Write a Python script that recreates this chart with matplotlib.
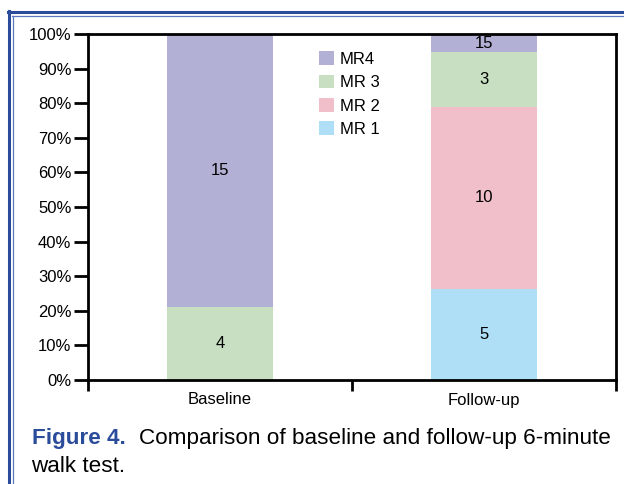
import matplotlib
matplotlib.use("Agg")
import matplotlib.pyplot as plt
from matplotlib.lines import Line2D
import numpy as np

plt.rcParams['font.family'] = ['Liberation Sans', 'DejaVu Sans']

categories = ["Baseline", "Follow-up"]
series = ["MR 1", "MR 2", "MR 3", "MR4"]
counts = {
    "MR 1": [0, 5],
    "MR 2": [0, 10],
    "MR 3": [4, 3],
    "MR4": [15, 1],
}
labels = {
    "MR 1": ["", "5"],
    "MR 2": ["", "10"],
    "MR 3": ["4", "3"],
    "MR4": ["15", "15"],
}
colors = {
    "MR 1": "#aedff7",
    "MR 2": "#f1bfca",
    "MR 3": "#c8e0c1",
    "MR4": "#b2b1d5",
}
yticks = [0, 10, 20, 30, 40, 50, 60, 70, 80, 90, 100]

W, H = 624, 484
fig = plt.figure(figsize=(W / 100, H / 100), dpi=100)
ax = fig.add_axes([88 / W, 1 - 380 / H, (616 - 88) / W, (380 - 34) / H])

totals = np.sum([counts[s] for s in series], axis=0)
x = np.arange(len(categories)) + 0.5
bottom = np.zeros(len(categories))
handles = {}
for s in series:
    pct = np.array(counts[s]) / totals * 100
    b = ax.bar(x, pct, width=0.4, bottom=bottom, color=colors[s], edgecolor='none', label=s)
    handles[s] = b
    for i in range(len(categories)):
        if labels[s][i]:
            ax.text(x[i], bottom[i] + pct[i] / 2, labels[s][i], ha='center', va='center', fontsize=12)
    bottom += pct

ax.set_xlim(0, 2)
ax.set_ylim(0, 100)
ax.set_yticks(yticks)
ax.set_yticklabels([f"{t}%" for t in yticks], fontsize=12)
ax.set_xticks([0, 1, 2])
ax.set_xticklabels([])
ax.set_xticks(x, minor=True)
ax.set_xticklabels(categories, minor=True, fontsize=12)
ax.tick_params(axis='x', which='minor', length=0, pad=9)
ax.tick_params(axis='x', which='major', length=8, width=2, direction='out')
ax.tick_params(axis='y', length=10, width=2, direction='out', pad=2)
for sp in ax.spines.values():
    sp.set_linewidth(2)

order = ["MR4", "MR 3", "MR 2", "MR 1"]
leg = ax.legend([handles[s] for s in order], order, loc='upper left',
                bbox_to_anchor=(0.4375, 0.95), frameon=False, fontsize=12,
                borderpad=0, borderaxespad=0,
                handlelength=0.9, handleheight=0.9, handletextpad=0.35, labelspacing=0.46)

# border
blue = "#2b4c9b"
fig.add_artist(Line2D([8 / W, 1.01], [1 - 12 / H, 1 - 12 / H], color=blue, lw=2.2, transform=fig.transFigure))
fig.add_artist(Line2D([12 / W, 1.01], [1 - 16 / H, 1 - 16 / H], color="#5a78c0", lw=0.9, transform=fig.transFigure))
fig.add_artist(Line2D([9 / W, 9 / W], [1 - 11 / H, -0.01], color=blue, lw=2.2, transform=fig.transFigure))
fig.add_artist(Line2D([13 / W, 13 / W], [1 - 16 / H, -0.01], color="#5a78c0", lw=0.9, transform=fig.transFigure))

# caption
t1 = fig.text(32 / W, 1 - 444 / H, "Figure 4.", color=blue, fontsize=16.2, fontweight='bold', va='baseline')
fig.canvas.draw()
bb = t1.get_window_extent()
fig.text((bb.x1 + 13) / W, 1 - 444 / H, "Comparison of baseline and follow-up 6-minute", fontsize=16.2, va='baseline')
fig.text(31 / W, 1 - 472 / H, "walk test.", fontsize=16.2, va='baseline')

fig.savefig("out.png", dpi=100)
